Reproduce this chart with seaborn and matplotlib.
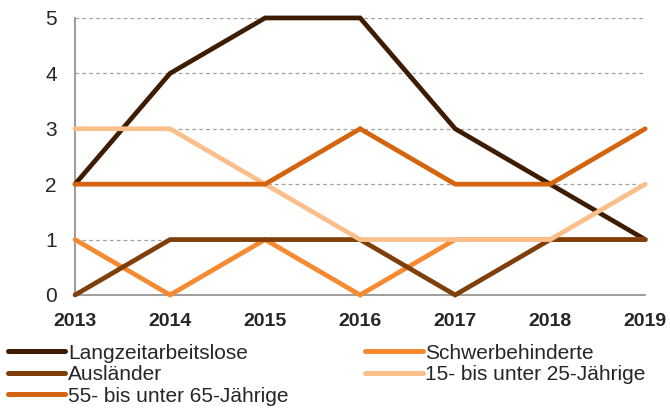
import matplotlib
matplotlib.use("Agg")
import matplotlib.pyplot as plt
import seaborn as sns
import pandas as pd
from matplotlib.lines import Line2D

years = [2013, 2014, 2015, 2016, 2017, 2018, 2019]
langzeit = [2, 4, 5, 5, 3, 2, 1]
schwer = [1, 0, 1, 0, 1, 1, 1]
auslaender = [0, 1, 1, 1, 0, 1, 1]
jung = [3, 3, 2, 1, 1, 1, 2]
alt = [2, 2, 2, 3, 2, 2, 3]

names = ["Langzeitarbeitslose", "Schwerbehinderte", "Ausländer",
         "15- bis unter 25-Jährige", "55- bis unter 65-Jährige"]
series = [langzeit, schwer, auslaender, jung, alt]
colors = ["#3d1c02", "#f58a30", "#7f3f0a", "#fbbf8c", "#d4640e"]

rows = []
for n, vals in zip(names, series):
    for y, v in zip(years, vals):
        rows.append({"Jahr": y, "Wert": v, "Gruppe": n})
df = pd.DataFrame(rows)

sns.set_style("white")
plt.rcParams["font.family"] = ["Liberation Sans", "DejaVu Sans"]

fig = plt.figure(figsize=(6.7, 4.08), dpi=100)
ax = fig.add_axes([0.112, 0.277, 0.851, 0.679])

sns.lineplot(data=df, x="Jahr", y="Wert", hue="Gruppe", hue_order=names,
             palette=colors, linewidth=3.4, ax=ax, legend=False,
             clip_on=False, zorder=3)
for line in ax.lines:
    line.set_solid_capstyle("round")
    line.set_solid_joinstyle("miter")

ax.set_xlim(2013, 2019)
ax.set_ylim(0, 5)
ax.set_yticks([0, 1, 2, 3, 4, 5])
ax.set_xticks(years)
ax.set_xticklabels([str(y) for y in years], fontweight="bold", fontsize=14)
ax.set_yticklabels([str(v) for v in range(6)], fontsize=15)
ax.set_xlabel("")
ax.set_ylabel("")
for v in range(1, 6):
    ax.axhline(v, color="#a0a0a0", linestyle=(0, (3, 2.5)), linewidth=0.9, zorder=1)
for s in ["top", "right"]:
    ax.spines[s].set_visible(False)
for s in ["left", "bottom"]:
    ax.spines[s].set_color("#8c8c8c")
    ax.spines[s].set_linewidth(1.2)
ax.tick_params(axis="both", which="both", length=5, width=1.0, color="#8c8c8c",
               direction="out")
ax.tick_params(axis="y", pad=8)
ax.tick_params(axis="x", pad=8)

handles = {n: Line2D([0], [0], color=c, linewidth=3.6, solid_capstyle="round")
           for n, c in zip(names, colors)}
order = ["Langzeitarbeitslose", "Ausländer", "55- bis unter 65-Jährige",
         "Schwerbehinderte", "15- bis unter 25-Jährige"]
fig.legend([handles[n] for n in order], order, loc="upper left",
           bbox_to_anchor=(0.012, 0.158), ncol=2, frameon=False,
           fontsize=15, handlelength=2.75, handletextpad=0.12,
           columnspacing=3.7, labelspacing=0.12, borderaxespad=0,
           borderpad=0)

fig.savefig("out.png", dpi=100)
